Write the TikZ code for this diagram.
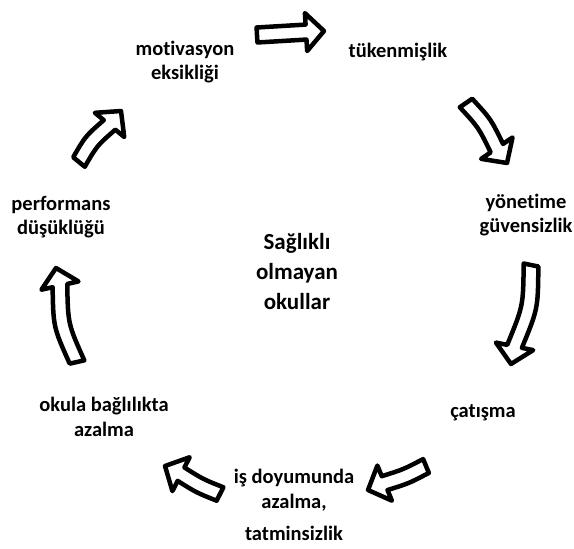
\documentclass[tikz,border=0pt]{standalone}
\usepackage{fontspec}
\setmainfont{Carlito}[Ligatures=NoCommon]
\usetikzlibrary{calc}

% hollow block arrow: tail, tip, bend
\newcommand{\hollowarrow}[3]{%
  \coordinate (nk) at ($(#2)!18pt!(#1)$);
  \coordinate (tl) at ($(#1)!7.5pt!90:(#2)$);
  \coordinate (tr) at ($(#1)!7.5pt!-90:(#2)$);
  \coordinate (nl) at ($(nk)!7.5pt!-90:(#1)$);
  \coordinate (nr) at ($(nk)!7.5pt!90:(#1)$);
  \coordinate (bl) at ($(nk)!19pt!-90:(#1)$);
  \coordinate (br) at ($(nk)!19pt!90:(#1)$);
  \draw[blockarrow] (tl) .. controls ($(tl)!0.5!(nl)!#3!90:(nl)$) .. (nl) -- (bl) -- (#2)
    -- (br) -- (nr) .. controls ($(tr)!0.5!(nr)!#3!90:(nr)$) .. (tr) -- cycle;
}

\begin{document}
\begin{tikzpicture}[x=1pt, y=-1pt,
    every node/.style={align=center, inner sep=0pt, font=\fontsize{20.5}{24.5}\selectfont\bfseries},
    blockarrow/.style={draw=black, fill=white, line width=4.5pt, line join=round}]
    \useasboundingbox (0,0) rectangle (574,549);

    \node (motivasyon) at (185,62) {motivasyon\\eksikliği};
    \node (tukenmislik) at (398,52) {tükenmişlik};
    \node (guvensizlik) at (526,215) {yönetime\\güvensizlik};
    \node (catisma) at (483,413) {çatışma};
    \node (doyum) at (294,505) {iş doyumunda\\azalma,\\[8pt]tatminsizlik};
    \node (baglilik) at (104,417) {okula bağlılıkta\\azalma};
    \node (performans) at (61,217) {performans\\düşüklüğü};
    \node (okullar) [font=\fontsize{23}{30}\selectfont\bfseries] at (297,272) {Sağlıklı\\olmayan\\okullar};

    % arrow ends
    \coordinate (t1) at (257,35);  \coordinate (h1) at (324,31);
    \coordinate (t2) at (466,103); \coordinate (h2) at (507,163);
    \coordinate (t3) at (531,265); \coordinate (h3) at (511,364);
    \coordinate (t4) at (426,466); \coordinate (h4) at (368,490);
    \coordinate (t5) at (220,494); \coordinate (h5) at (165,466);
    \coordinate (t6) at (77,362);  \coordinate (h6) at (56,268);
    \coordinate (t7) at (79,162);  \coordinate (h7) at (121,111);

    \hollowarrow{t1}{h1}{0pt}
    \hollowarrow{t2}{h2}{4pt}
    \hollowarrow{t3}{h3}{8pt}
    \hollowarrow{t4}{h4}{2pt}
    \hollowarrow{t5}{h5}{2pt}
    \hollowarrow{t6}{h6}{8pt}
    \hollowarrow{t7}{h7}{4pt}
\end{tikzpicture}
\end{document}
